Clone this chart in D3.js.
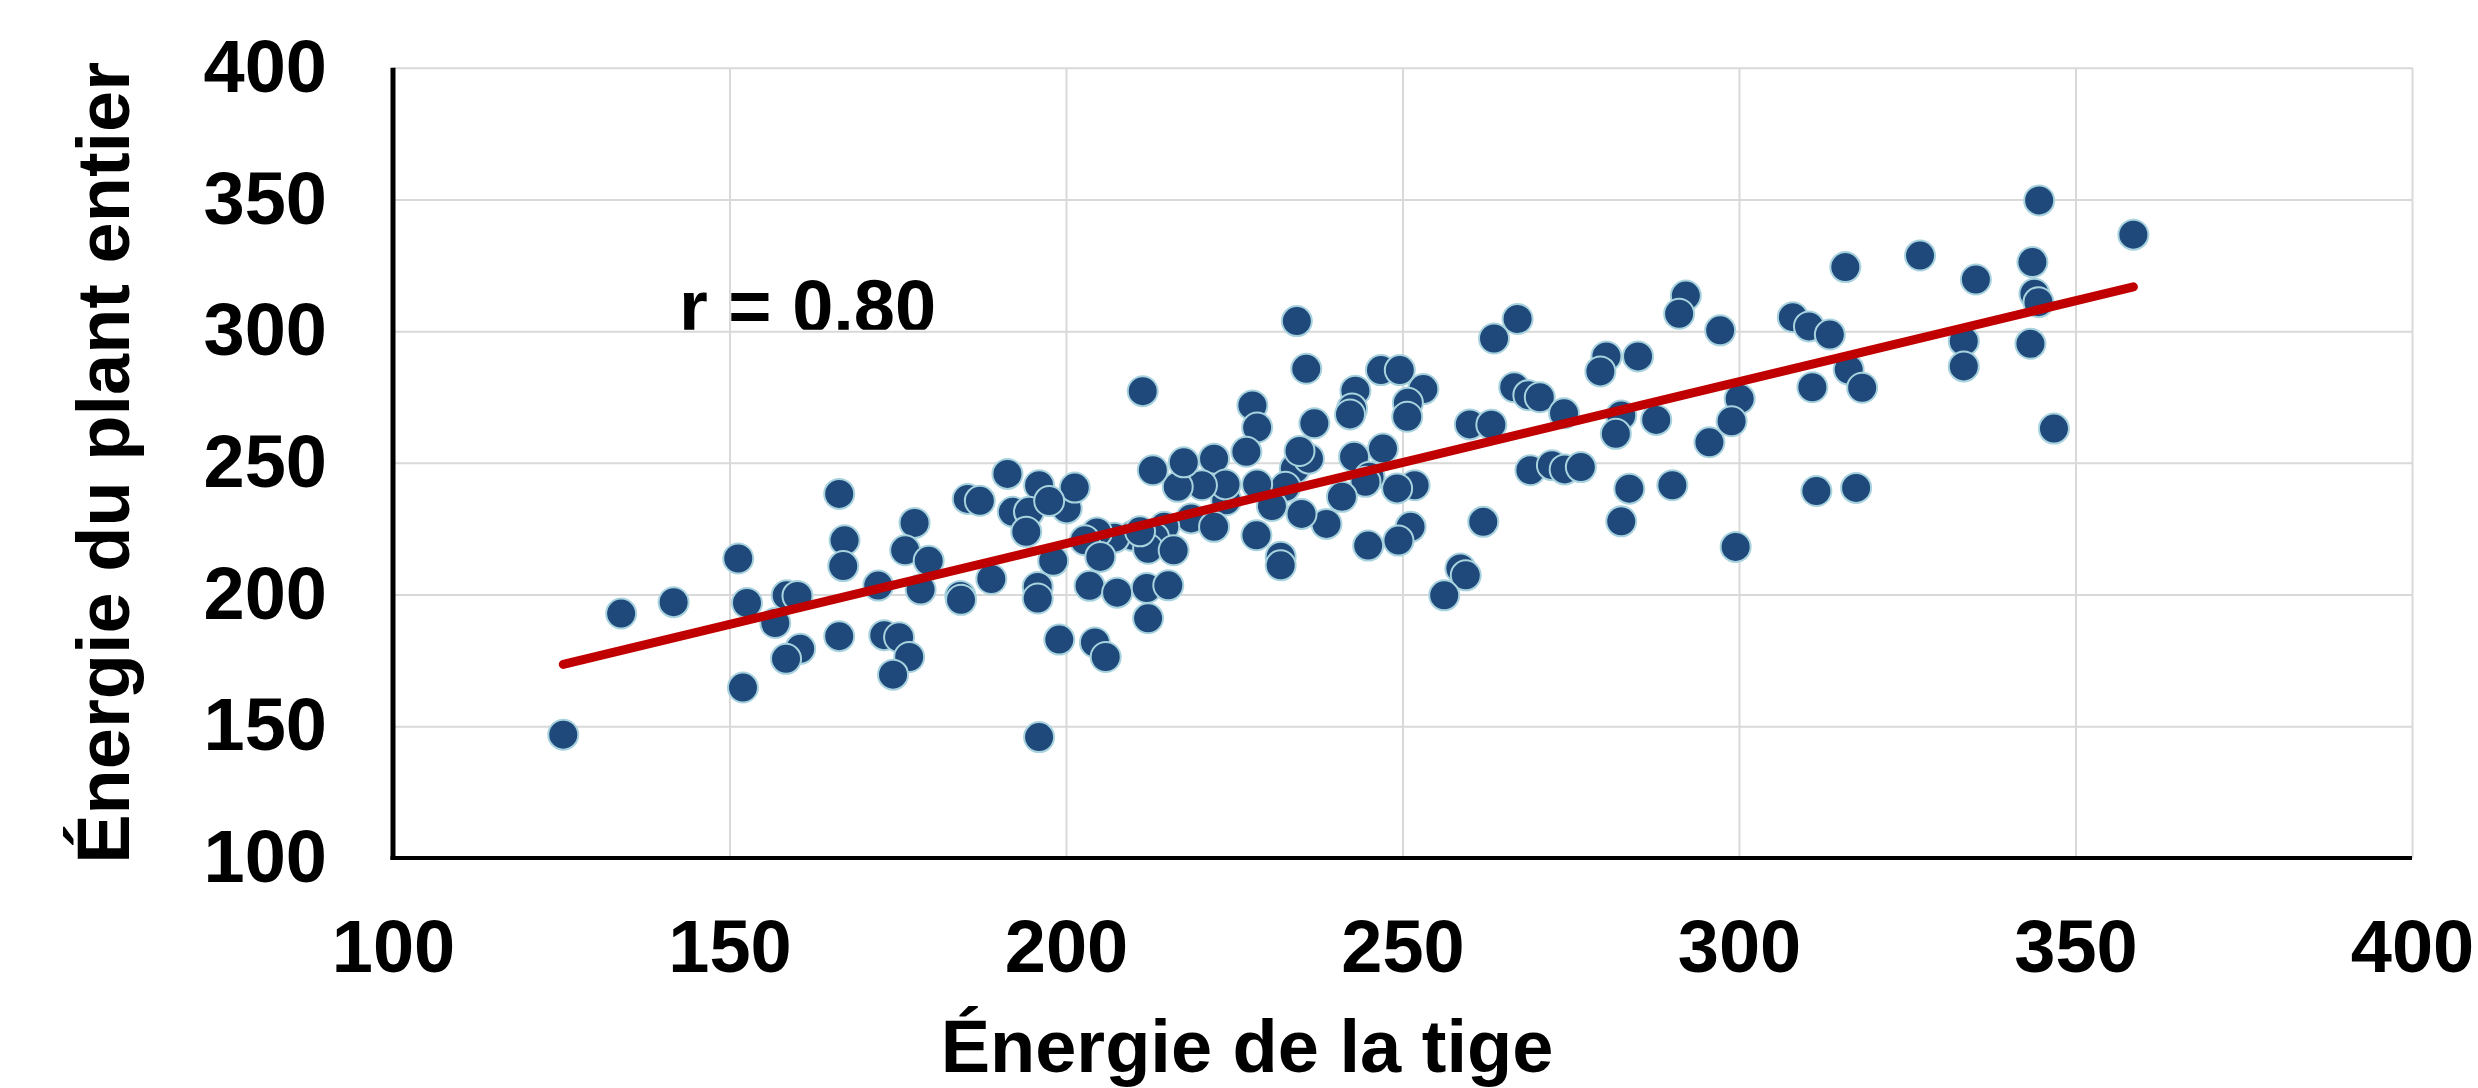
<!DOCTYPE html>
<html>
<head>
<meta charset="utf-8">
<script src="https://cdn.jsdelivr.net/npm/d3@7"></script>
<style>
  html, body { margin: 0; padding: 0; background: #fff; }
  svg { display: block; }
</style>
</head>
<body>
<svg id="chart" width="2478" height="1088"></svg>
<script>
// ---- Data ----
const stemEnergy = [
  125.3,133.9,141.7,151.3,152.6,152.0,158.5,160.1,156.8,160.5,158.4,166.3,167.1,166.9,166.3,172.1,173.0,175.2,176.7,174.3,
  177.5,176.1,179.6,178.4,184.3,184.4,188.9,185.4,187.2,191.3,196.0,192.1,194.5,194.1,198.1,195.8,195.8,199.0,196.0,200.1,
  201.3,197.5,
  234.3,235.7,211.4,227.7,228.4,226.8,236.9,243.0,242.5,242.2,246.8,249.6,253.1,250.8,250.7,267.1,263.6,266.6,268.7,270.4,
  274.0,260.0,263.2,269.0,272.2,274.1,276.5,262.0,258.6,259.4,256.2,251.8,249.2,247.1,242.8,245.1,244.5,241.0,251.2,249.4,
  244.9,238.7,235.0,234.0,236.1,234.7,232.6,230.6,228.4,228.3,231.9,231.9,223.8,222.0,223.7,220.2,216.6,217.5,212.9,218.6,
  222.0,214.6,213.1,209.9,207.2,204.6,202.8,205.1,212.2,216.0,203.5,207.6,212.0,215.2,212.2,204.3,205.9,211.0,
  344.6,358.6,326.9,315.8,335.2,343.6,343.9,344.5,343.3,346.8,333.4,333.4,308.0,310.4,313.5,316.3,318.3,310.9,292.1,291.1,
  297.2,280.3,279.4,285.0,300.1,298.9,295.6,282.5,281.7,287.7,283.7,290.1,311.5,317.4,282.5,299.5
];
const plantEnergy = [
  146.8,192.8,197.1,213.7,196.8,164.7,199.7,199.5,189.2,179.4,175.6,238.2,220.6,210.8,184.2,203.4,184.6,183.8,176.3,169.6,
  227.2,216.8,212.8,201.9,199.5,198.0,205.9,236.3,235.6,245.8,241.5,231.4,231.4,223.8,212.8,202.9,198.5,182.9,145.9,232.7,
  240.6,235.5,
  303.8,285.7,277.2,271.8,263.4,254.2,265.0,277.4,270.6,268.4,285.2,285.2,278.0,272.8,267.5,304.6,297.2,278.7,275.7,274.9,
  268.8,264.6,264.5,247.2,249.1,247.5,248.4,227.6,209.9,207.3,199.7,241.5,240.3,255.4,252.3,244.7,242.8,237.1,225.7,220.5,
  218.6,226.8,230.6,247.8,251.6,254.5,240.9,233.6,241.8,222.5,214.4,211.1,235.8,251.6,241.8,241.5,240.9,250.2,247.2,228.9,
  225.7,225.7,221.6,222.3,221.6,223.6,220.6,214.3,217.4,216.8,203.3,200.7,202.5,203.5,191.0,181.8,176.3,224.0,
  349.6,336.6,328.7,324.3,319.6,326.2,314.2,311.0,295.2,263.0,296.2,286.6,305.3,301.8,298.7,285.4,278.5,278.7,313.5,306.6,
  300.3,290.4,284.7,290.4,274.3,265.8,257.8,268.0,261.0,266.3,240.2,241.5,239.3,240.5,227.8,218.1
];
const trendX = [125.3, 358.6];
const trendY = [173.5, 316.8];
const xTicks = [100, 150, 200, 250, 300, 350, 400];
const yTicks = [100, 150, 200, 250, 300, 350, 400];
const xTitle = "Énergie de la tige";
const yTitle = "Énergie du plant entier";
const rLabel = "r = 0.80";

// ---- Layout ----
const pLeft = 393, pRight = 2412, pTop = 67.7, pBottom = 858;
const FONT = "'Liberation Sans', Arial, Helvetica, sans-serif";

const svg = d3.select("#chart");
svg.append("rect").attr("width", 2478).attr("height", 1088).attr("fill", "#fff");

const x = d3.scaleLinear().domain([100, 400]).range([pLeft, pRight]);
const y = d3.scaleLinear().domain([100, 400]).range([pBottom, pTop]);

// Gridlines
const gx = svg.append("g").attr("transform", `translate(0,${pBottom})`)
  .call(d3.axisBottom(x).tickValues(xTicks).tickSize(-(pBottom - pTop)).tickFormat(""));
gx.select(".domain").remove();
gx.selectAll("line").attr("stroke", "#d9d9d9").attr("stroke-width", 2);

const gy = svg.append("g").attr("transform", `translate(${pLeft},0)`)
  .call(d3.axisLeft(y).tickValues(yTicks).tickSize(-(pRight - pLeft)).tickFormat(""));
gy.select(".domain").remove();
gy.selectAll("line").attr("stroke", "#d9d9d9").attr("stroke-width", 2);

// Correlation label (clipped at its bottom as in the reference)
svg.append("clipPath").attr("id", "rclip")
  .append("rect").attr("x", 0).attr("y", 0).attr("width", 2478).attr("height", y(300) - 1.5);
svg.append("text")
  .attr("clip-path", "url(#rclip)")
  .attr("x", 679).attr("y", 332)
  .attr("font-family", FONT).attr("font-weight", "bold").attr("font-size", 74)
  .attr("fill", "#000")
  .text(rLabel);

// Points
const pts = stemEnergy.map((v, i) => [v, plantEnergy[i]]);
svg.append("g").selectAll("circle").data(pts).join("circle")
  .attr("cx", d => x(d[0]))
  .attr("cy", d => y(d[1]))
  .attr("r", 15)
  .attr("fill", "#1f497b")
  .attr("stroke", "#a8d3de")
  .attr("stroke-width", 2);

// Trend line
svg.append("path")
  .datum(trendX.map((v, i) => [v, trendY[i]]))
  .attr("d", d3.line().x(d => x(d[0])).y(d => y(d[1])))
  .attr("fill", "none")
  .attr("stroke", "#c00000")
  .attr("stroke-width", 9)
  .attr("stroke-linecap", "round");

// Axis lines
svg.append("line").attr("x1", pLeft).attr("x2", pLeft).attr("y1", pTop).attr("y2", pBottom + 2)
  .attr("stroke", "#000").attr("stroke-width", 5);
svg.append("line").attr("x1", pLeft - 2.5).attr("x2", pRight).attr("y1", pBottom).attr("y2", pBottom)
  .attr("stroke", "#000").attr("stroke-width", 4);

// Tick labels
const ax = svg.append("g").attr("transform", `translate(0,${pBottom})`)
  .call(d3.axisBottom(x).tickValues(xTicks).tickSize(0).tickPadding(61.5).tickFormat(d3.format("d")));
ax.select(".domain").remove();
ax.selectAll("text").attr("font-family", FONT).attr("font-weight", "bold")
  .attr("font-size", 74).attr("fill", "#000");

const ay = svg.append("g").attr("transform", `translate(${pLeft},0)`)
  .call(d3.axisLeft(y).tickValues(yTicks).tickSize(0).tickPadding(66).tickFormat(d3.format("d")));
ay.select(".domain").remove();
ay.selectAll("text").attr("font-family", FONT).attr("font-weight", "bold")
  .attr("font-size", 74).attr("fill", "#000");

// Axis titles
svg.append("text")
  .attr("x", 1247).attr("y", 1072)
  .attr("text-anchor", "middle")
  .attr("font-family", FONT).attr("font-weight", "bold").attr("font-size", 74)
  .attr("fill", "#000")
  .text(xTitle);

svg.append("text")
  .attr("transform", `translate(129,${(pTop + pBottom) / 2}) rotate(-90)`)
  .attr("text-anchor", "middle")
  .attr("font-family", FONT).attr("font-weight", "bold").attr("font-size", 74)
  .attr("fill", "#000")
  .text(yTitle);
</script>
</body>
</html>
